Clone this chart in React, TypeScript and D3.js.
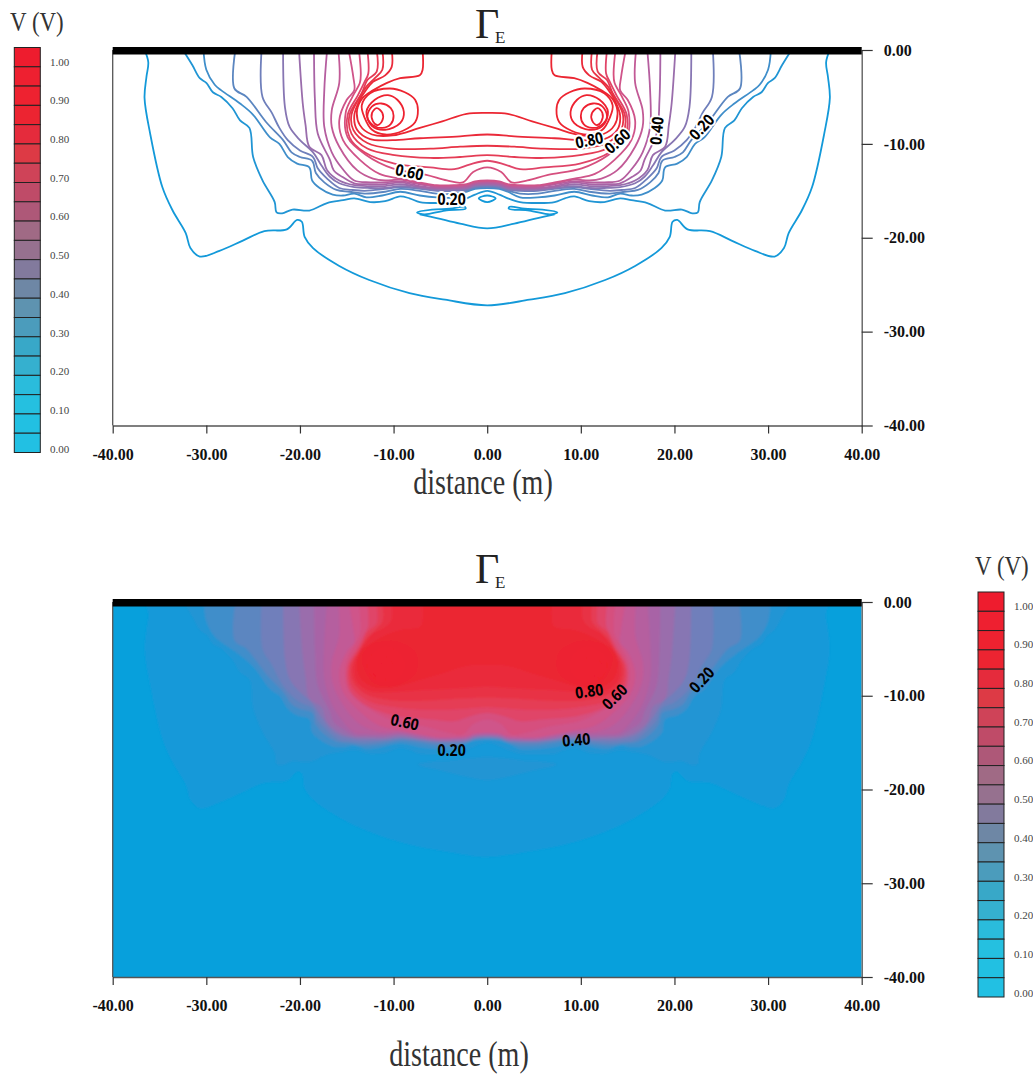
import React, {useEffect, useRef} from 'react';
import * as d3 from 'd3';

type Pt = [number, number];

// left half of each contour, [distance m, depth m]. the right half is its mirror
const line05: Pt[] = [[-36.6,0],[-36.2,-1.3],[-36.4,-2.9],[-36.6,-5.1],[-36.0,-8.9],[-34.7,-14.6],[-33.6,-17.1],[-32.2,-19.5],[-31.7,-21.1],[-30.7,-22.0],[-28.6,-21.4],[-26.1,-20.3],[-23.8,-19.3],[-21.4,-19.1],[-20.3,-18.1],[-19.8,-18.3],[-19.5,-19.9],[-18.6,-21.1],[-15.8,-23.0],[-12.6,-24.5],[-8.3,-25.9],[-4.5,-26.6],[0,-27.2]];
const line10: Pt[] = [[-32.5,0],[-31.5,-1.6],[-30.7,-3.0],[-30.0,-3.5],[-29.3,-4.5],[-28.4,-5.0],[-27.2,-6.2],[-26.4,-7.5],[-25.4,-8.3],[-25.0,-11.4],[-24.0,-13.9],[-22.7,-16.2],[-22.5,-17.3],[-21.9,-17.4],[-20.8,-17.0],[-19.0,-17.1],[-17.1,-16.3],[-15.4,-16.0],[-14.2,-15.8],[-12.5,-16.2],[-10.9,-16.1],[-9.3,-15.6],[-8.3,-15.8],[-7.2,-16.2],[-5.4,-16.3],[-3.5,-16.2],[-2.2,-15.8],[-1.3,-15.4],[0,-15.0]];
const line15: Pt[] = [[-30.3,0],[-30.0,-2.1],[-29.1,-3.7],[-28.4,-4.3],[-26.4,-5.7],[-25.0,-6.9],[-23.2,-9.3],[-22.2,-10.0],[-21.3,-11.4],[-20.3,-12.1],[-19.0,-12.5],[-18.7,-13.9],[-17.9,-14.7],[-16.5,-15.4],[-15.4,-15.5],[-14.2,-15.3],[-12.9,-15.7],[-11.2,-15.5],[-9.3,-15.1],[-7.2,-15.5],[-5.4,-15.7],[-3.5,-15.7],[-2.2,-15.1],[-1.3,-14.8],[0,-14.7]];
const line20: Pt[] = [[-26.9,0],[-27.0,-4.1],[-25.7,-5.0],[-23.6,-7.7],[-21.8,-9.6],[-20.9,-10.9],[-20.0,-11.4],[-18.7,-11.8],[-18.3,-13.1],[-17.4,-14.1],[-16.1,-14.9],[-14.7,-15.1],[-13.1,-15.3],[-10.9,-15.1],[-9.3,-14.8],[-7.2,-15.0],[-5.4,-15.3],[-3.5,-15.3],[-2.2,-15.0],[-1.3,-14.7],[0,-14.6]];
const line25: Pt[] = [[-24.1,0],[-24.0,-5.0],[-23.0,-6.7],[-22.2,-8.3],[-21.3,-9.6],[-20.0,-10.7],[-18.6,-11.4],[-18.1,-12.6],[-17.1,-13.7],[-15.8,-14.7],[-14.5,-14.9],[-13.1,-15.0],[-10.9,-14.8],[-9.3,-14.6],[-7.2,-14.8],[-5.4,-15.0],[-3.5,-15.0],[-2.2,-14.9],[-1.3,-14.6],[0,-14.5]];
const line30: Pt[] = [[-21.8,0],[-21.6,-6.1],[-21.1,-8.2],[-20.0,-9.6],[-18.6,-10.9],[-17.7,-12.3],[-16.8,-13.5],[-15.8,-14.2],[-14.2,-14.6],[-12.5,-14.7],[-10.9,-14.7],[-9.3,-14.5],[-7.2,-14.7],[-5.4,-14.9],[-3.5,-14.9],[-2.2,-14.8],[-1.3,-14.5],[0,-14.4]];
const line35: Pt[] = [[-20.1,0],[-19.7,-5.7],[-19.4,-8.0],[-19.0,-10.3],[-17.7,-11.2],[-17.1,-12.8],[-15.8,-13.9],[-14.2,-14.4],[-12.5,-14.5],[-10.9,-14.5],[-9.3,-14.3],[-7.2,-14.6],[-5.4,-14.8],[-3.5,-14.8],[-2.2,-14.7],[-1.3,-14.4],[0,-14.3]];
const line40: Pt[] = [[-18.5,0],[-18.4,-5.3],[-18.1,-8.9],[-16.8,-11.7],[-16.4,-12.8],[-15.5,-13.5],[-14.2,-14.2],[-12.5,-14.3],[-10.9,-14.3],[-9.3,-14.1],[-7.2,-14.5],[-5.4,-14.7],[-3.5,-14.7],[-2.2,-14.6],[-1.3,-14.3],[0,-14.2]];
const line45: Pt[] = [[-17.1,0],[-17.4,-4.3],[-17.4,-8.2],[-16.6,-10.9],[-15.5,-12.6],[-14.2,-13.9],[-12.5,-14.1],[-10.9,-14.1],[-9.3,-14.0],[-7.2,-14.3],[-5.4,-14.6],[-3.5,-14.6],[-2.2,-14.5],[-1.3,-14.2],[0,-14.1]];
const line50: Pt[] = [[-15.9,0],[-15.8,-3.5],[-16.6,-6.4],[-16.6,-8.2],[-15.8,-10.3],[-13.9,-12.8],[-12.2,-13.7],[-10.9,-13.9],[-9.3,-13.8],[-7.2,-14.2],[-5.4,-14.5],[-3.5,-14.5],[-2.2,-14.4],[-1.3,-14.1],[0,-14.0]];
const line55: Pt[] = [[-14.8,0],[-14.3,-2.9],[-14.2,-4.3],[-15.0,-5.3],[-15.8,-7.5],[-15.4,-9.6],[-13.6,-11.7],[-11.5,-13.2],[-9.3,-13.7],[-7.2,-14.1],[-5.4,-14.4],[-3.5,-14.4],[-2.2,-14.3],[-1.3,-14.0],[0,-13.9]];
const line60: Pt[] = [[-13.7,0],[-13.5,-2.5],[-13.6,-3.5],[-14.4,-5.0],[-15.1,-6.6],[-14.9,-9.3],[-12.9,-11.2],[-10.1,-12.6],[-6.5,-13.3],[-4.3,-13.9],[-2.6,-14.1],[-1.5,-13.0],[0,-12.5]];
const line65: Pt[] = [[-12.8,0],[-12.7,-2.5],[-13.1,-3.4],[-13.8,-4.8],[-14.9,-6.9],[-14.7,-9.3],[-13.1,-10.9],[-9.9,-12.1],[-6.1,-12.5],[-3.5,-12.7],[-1.9,-12.2],[0,-11.8]];
const line70: Pt[] = [[-11.8,0],[-11.8,-2.3],[-12.8,-3.2],[-13.4,-4.6],[-14.7,-6.9],[-14.5,-8.9],[-12.8,-10.5],[-9.9,-11.2],[-6.1,-11.5],[-2.9,-11.4],[0,-11.2]];
const line75: Pt[] = [[-11.2,0],[-11.2,-2.1],[-12.0,-3.0],[-12.9,-3.9],[-13.6,-5.0],[-14.5,-6.9],[-14.3,-8.5],[-12.8,-9.9],[-10.1,-10.5],[-6.1,-10.5],[-2.9,-10.3],[0,-10.2]];
const line80: Pt[] = [[-10.2,0],[-10.2,-1.8],[-10.9,-2.7],[-12.2,-3.4],[-13.1,-4.5],[-13.6,-5.3],[-14.2,-7.0],[-13.9,-8.5],[-12.5,-9.5],[-10.1,-9.6],[-7.2,-9.4],[-2.9,-9.2],[0,-9.0]];
const line85: Pt[] = [[-6.9,0],[-6.9,-2.1],[-7.2,-2.7],[-9.3,-3.0],[-10.7,-3.5],[-12.2,-4.3],[-13.3,-5.1],[-13.9,-6.4],[-13.6,-8.0],[-12.3,-9.0],[-10.1,-9.1],[-7.2,-8.3],[-4.8,-7.6],[-2.2,-6.8],[0,-6.7]];

// closed loops round the left peak
const loop90: Pt[] = [[-10.4,-4.1],[-8.8,-4.5],[-7.7,-5.3],[-7.4,-6.4],[-7.7,-7.7],[-9.0,-8.6],[-10.9,-9.0],[-12.3,-8.5],[-13.1,-7.2],[-13.4,-5.9],[-12.5,-4.6]];
const loop95: Pt[] = [[-10.6,-4.8],[-9.6,-5.3],[-8.9,-6.6],[-9.3,-7.8],[-10.9,-8.5],[-12.3,-8.1],[-12.9,-6.6],[-12.0,-5.3]];
const loop100: Pt[] = [[-11.3,-5.7],[-10.3,-6.2],[-10.0,-7.0],[-10.3,-7.9],[-11.2,-8.3],[-12.2,-8.0],[-12.8,-7.1],[-12.3,-6.0]];
const loop105: Pt[] = [[-11.8,-6.2],[-11.2,-6.7],[-11.2,-7.5],[-11.7,-8.0],[-12.2,-7.6],[-12.3,-6.7]];

// small shapes under the dense band
const eye: Pt[] = [[-0.9,-15.8],[0,-15.5],[0.9,-15.8],[0,-16.2]];
const lensLeft: Pt[] = [[-7.5,-17.3],[-5.9,-17.0],[-4.0,-16.9],[-2.4,-16.7],[-2.3,-16.9],[-4.5,-17.1],[-6.7,-17.5]];
const lensTop: Pt[] = [[-7.5,-17.3],[-5.9,-17.0],[-4.0,-16.9],[-2.4,-16.7],[0,-16.5]];
const arcLow: Pt[] = [[-7.2,-17.5],[-5.4,-17.9],[-2.9,-18.5],[0,-19.0]];

const openLines: [number, Pt[]][] = [[0.05,line05],[0.10,line10],[0.15,line15],[0.20,line20],[0.25,line25],[0.30,line30],[0.35,line35],[0.40,line40],[0.45,line45],[0.50,line50],[0.55,line55],[0.60,line60],[0.65,line65],[0.70,line70],[0.75,line75],[0.80,line80],[0.85,line85]];
const closedLoops: [number, Pt[]][] = [[0.90,loop90],[0.95,loop95],[1.00,loop100],[1.05,loop105]];

const xTicks = [-40,-30,-20,-10,0,10,20,30,40];
const yTicks = [0,-10,-20,-30,-40];

const levelStops = [0,0.05,0.10,0.15,0.20,0.25,0.30,0.35,0.40,0.45,0.50,0.55,0.60,0.65,0.70,0.75,0.80,0.85,0.90,1.00];
const levelColors = ['#07a0dc','#1399d9','#2095d4','#3f8eca','#5b86c0','#6f7fbb','#8776b3','#9a6dac','#a864a6','#b55e9f','#c25a96','#cf548a','#d64f7e','#e04468','#e53c55','#e83345','#ea2a3a','#eb2632','#ed2430','#ee2030'];

const legendValues = [1.00,0.95,0.90,0.85,0.80,0.75,0.70,0.65,0.60,0.55,0.50,0.45,0.40,0.35,0.30,0.25,0.20,0.15,0.10,0.05,0.00];
const legendColors = ['#ee1c2e','#ee2030','#ee2230','#ec2431','#e52b3c','#dd3a45','#cf4358','#bf4b68','#ae5878','#a06a85','#96718f','#827a9d','#6e87a5','#5e93b0','#4b9cbc','#38a8c8','#35b0cf','#2abcdc','#25c0e0','#22c0e2','#22c0e3'];
const legendTicks = [1.00,0.90,0.80,0.70,0.60,0.50,0.40,0.30,0.20,0.10,0.00];

// contour labels: text, distance, depth, rotation
const topLabels: [string, number, number, number][] = [['0.80',10.9,-9.6,-12],['0.60',13.9,-9.7,-42],['0.40',18.1,-8.6,-85],['0.20',22.9,-8.2,-47],['0.60',-8.3,-13.0,12],['0.20',-3.8,-15.9,0]];
const bottomLabels: [string, number, number, number][] = [['0.80',10.9,-9.5,-8],['0.60',13.6,-10.1,-45],['0.20',22.9,-8.3,-47],['0.60',-8.8,-12.8,12],['0.20',-3.8,-15.8,0],['0.40',9.5,-14.7,-5]];

const SERIF = '"Liberation Serif", serif';
const colorOf = d3.scaleLinear<string>().domain(levelStops).range(levelColors).clamp(true);
const mirror = (pts: Pt[]): Pt[] => pts.map(([x, y]) => [-x, y] as Pt);
const fullLine = (half: Pt[]): Pt[] => [...half, ...mirror(half).reverse().slice(1)];

const xScale = d3.scaleLinear().domain([-40, 40]).range([112.7, 861.7]);

function Panel({y0, y40, id, filled, labels}: {y0: number; y40: number; id: string; filled: boolean; labels: [string, number, number, number][]}) {
    const xRef = useRef<SVGGElement>(null);
    const yRef = useRef<SVGGElement>(null);
    const yScale = d3.scaleLinear().domain([-40, 0]).range([y40, y0]);
    const open = d3.line<Pt>().x(d => xScale(d[0])).y(d => yScale(d[1])).curve(d3.curveCatmullRom.alpha(0.5));
    const closed = d3.line<Pt>().x(d => xScale(d[0])).y(d => yScale(d[1])).curve(d3.curveCatmullRomClosed.alpha(0.5));

    useEffect(() => {
        const fmt = (d: d3.NumberValue) => (+d).toFixed(2);
        const xAxis = d3.axisBottom(xScale).tickValues(xTicks).tickSize(8).tickPadding(15).tickSizeOuter(0).tickFormat(fmt);
        const yAxis = d3.axisRight(yScale).tickValues(yTicks).tickSize(11).tickPadding(11).tickSizeOuter(0).tickFormat(fmt);
        for (const [ref, axis] of [[xRef, xAxis], [yRef, yAxis]] as any) {
            const g = d3.select(ref.current);
            g.selectAll('*').remove();
            g.call(axis);
            g.attr('font-family', SERIF).attr('font-size', 16).attr('font-weight', 'bold');
            g.select('.domain').attr('stroke', '#555').attr('stroke-width', 1.3);
            g.selectAll('.tick line').attr('stroke', '#333').attr('stroke-width', 1.2);
            g.selectAll('.tick text').attr('fill', '#111');
        }
    }, []);

    return (
        <g>
            <clipPath id={id + '-clip'}>
                <rect x={xScale(-40)} y={y0} width={xScale(40) - xScale(-40)} height={y40 - y0}/>
            </clipPath>
            {filled && (
                <g clipPath={`url(#${id}-clip)`}>
                    <filter id={id + '-soft'} filterUnits="userSpaceOnUse" x={0} y={y0 - 20} width={1033} height={y40 - y0 + 40}>
                        <feGaussianBlur stdDeviation={1.3}/>
                    </filter>
                    <rect x={xScale(-40)} y={y0} width={xScale(40) - xScale(-40)} height={y40 - y0} fill={colorOf(0)}/>
                    <g filter={`url(#${id}-soft)`}>
                        {openLines.map(([level, half]) => (
                            <React.Fragment key={level}>
                                <path d={open(fullLine(half)) + 'Z'} fill={colorOf(level)}/>
                                {level === 0.10 && <path d={closed([...lensTop, ...mirror(lensTop).reverse().slice(1), ...mirror(arcLow), ...arcLow.slice().reverse().slice(1)])!} fill={colorOf(0.10)}/>}
                            </React.Fragment>
                        ))}
                        {closedLoops.map(([level, loop]) => (
                            <React.Fragment key={level}>
                                <path d={closed(loop)!} fill={colorOf(level)}/>
                                <path d={closed(mirror(loop))!} fill={colorOf(level)}/>
                            </React.Fragment>
                        ))}
                    </g>
                </g>
            )}
            {!filled && (
                <g fill="none" strokeWidth={1.8} clipPath={`url(#${id}-clip)`}>
                    {openLines.map(([level, half]) => (
                        <path key={level} d={open(fullLine(half))!} stroke={colorOf(level)}/>
                    ))}
                    {closedLoops.map(([level, loop]) => (
                        <React.Fragment key={level}>
                            <path d={closed(loop)!} stroke={colorOf(level)}/>
                            <path d={closed(mirror(loop))!} stroke={colorOf(level)}/>
                        </React.Fragment>
                    ))}
                    <path d={closed(eye)!} stroke={colorOf(0.05)}/>
                    <path d={closed(lensLeft)!} stroke={colorOf(0.05)}/>
                    <path d={closed(mirror(lensLeft))!} stroke={colorOf(0.05)}/>
                    <path d={open(fullLine(arcLow))!} stroke={colorOf(0.05)}/>
                </g>
            )}
            <line x1={xScale(-40)} x2={xScale(-40)} y1={y0} y2={y40} stroke="#555" strokeWidth={1.3}/>
            <g ref={xRef} transform={`translate(0,${y40})`}/>
            <g ref={yRef} transform={`translate(${xScale(40)},0)`}/>
            <rect x={xScale(-40)} y={y0 - 3} width={xScale(40) - xScale(-40)} height={7.5} fill="#000"/>
            {labels.map(([text, lx, ly, rot], i) => (
                <g key={i} transform={`translate(${xScale(lx)},${yScale(ly)}) rotate(${rot}) scale(0.88,1)`}>
                    <text textAnchor="middle" dy="0.36em" fontFamily='"Open Sans", sans-serif' fontWeight={700} fontSize={16} fill="#000"
                          stroke="#fff" strokeWidth={filled ? 0 : 4} style={{paintOrder: 'stroke'}}>{text}</text>
                </g>
            ))}
        </g>
    );
}

function Legend({x, top, title, titleX, titleY, labelX, y100, y0}: {x: number; top: number; title: string; titleX: number; titleY: number; labelX: number; y100: number; y0: number}) {
    const band = d3.scaleBand<number>().domain(legendValues).range([top, top + 405]);
    const labelY = d3.scaleLinear().domain([0, 1]).range([y0, y100]);
    return (
        <g>
            <text transform={`translate(${titleX},${titleY}) scale(0.85,1)`} fontFamily={SERIF} fontSize={27} fill="#333">{title}</text>
            {legendValues.map((v, i) => (
                <rect key={v} x={x} y={band(v)} width={26} height={band.bandwidth()} fill={legendColors[i]} stroke="#222" strokeWidth={1}/>
            ))}
            {legendTicks.map(v => (
                <text key={v} x={labelX} y={labelY(v)} dy="0.33em" fontFamily={SERIF} fontSize={11} fill="#444">{v.toFixed(2)}</text>
            ))}
        </g>
    );
}

function Title({x, y}: {x: number; y: number}) {
    return (
        <g fill="#222" fontFamily={SERIF}>
            <text x={x} y={y} fontSize={42}>Γ</text>
            <text x={x + 20} y={y + 5} fontSize={17}>E</text>
        </g>
    );
}

function XLabel({cx, y}: {cx: number; y: number}) {
    return (
        <text transform={`translate(${cx},${y}) scale(0.78,1)`} textAnchor="middle" fontFamily={SERIF} fontSize={36} fill="#333">distance (m)</text>
    );
}

export default function App() {
    return (
        <svg width={1033} height={1076} style={{position: 'absolute', left: 0, top: 0, background: '#fff'}}>
            <Title x={475} y={37.5}/>
            <Panel y0={50} y40={425.5} id="lines" filled={false} labels={topLabels}/>
            <XLabel cx={483} y={494}/>
            <Legend x={14.3} top={47.5} title="V (V)" titleX={10} titleY={31} labelX={50} y100={62} y0={449}/>

            <Title x={475} y={583}/>
            <Panel y0={602} y40={977} id="fill" filled={true} labels={bottomLabels}/>
            <XLabel cx={459} y={1066}/>
            <Legend x={978} top={592} title="V (V)" titleX={975} titleY={575} labelX={1014} y100={606} y0={993}/>
        </svg>
    );
}
